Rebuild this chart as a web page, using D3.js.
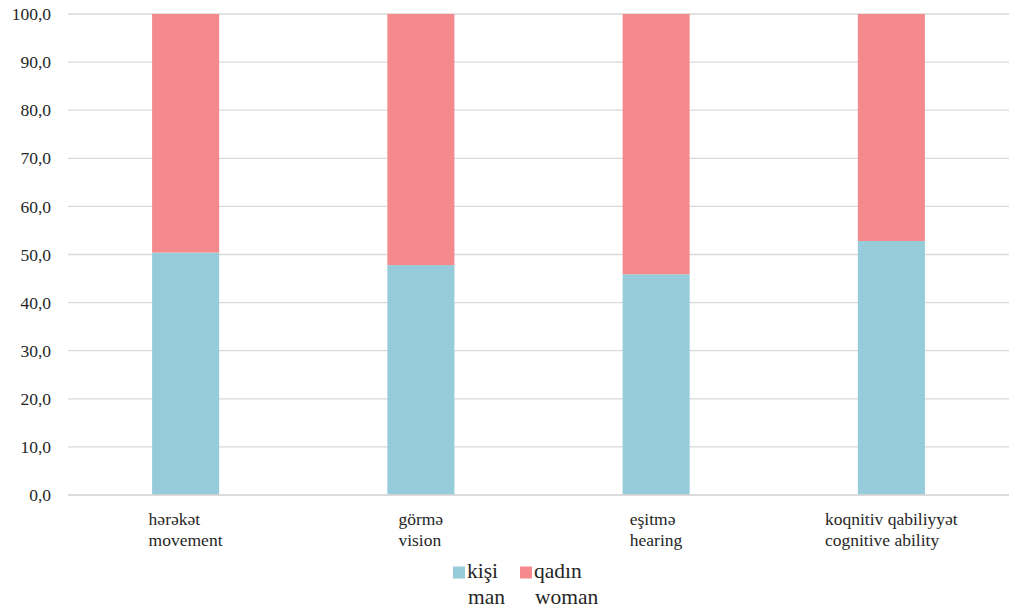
<!DOCTYPE html>
<html><head><meta charset="utf-8">
<script src="https://cdn.jsdelivr.net/npm/d3@7"></script>
<style>body{margin:0;background:#fff}</style>
</head><body><svg id="c" width="1010" height="610"></svg>
<script>
const categoriesAz = ["hərəkət", "görmə", "eşitmə", "koqnitiv qabiliyyət"];
const categoriesEn = ["movement", "vision", "hearing", "cognitive ability"];
const manValues = [50.4, 47.8, 45.9, 52.8];
const womanValues = [49.6, 52.2, 54.1, 47.2];
const yTicks = [0, 10, 20, 30, 40, 50, 60, 70, 80, 90, 100];
const seriesNames = [["kişi", "man"], ["qadın", "woman"]];
const colors = ["#96CBDA", "#F58A8D"];

const FONT = '"Liberation Serif"';
const svg = d3.select("#c");
const L = 68, R = 1009, T = 14, B = 495;
const x = d3.scaleBand().domain(d3.range(categoriesAz.length)).range([L, R]).padding(0);
const y = d3.scaleLinear().domain([0, 100]).range([B, T]);
const barW = x.bandwidth() * 0.285;
const fmt = v => d3.format(".1f")(v).replace(".", ",");

// gridlines
svg.append("g").selectAll("line").data(yTicks).join("line")
  .attr("x1", L).attr("x2", R).attr("y1", d => y(d)).attr("y2", d => y(d))
  .attr("stroke", "#d9d9d9").attr("stroke-width", 1.3);

// y tick labels
svg.append("g").selectAll("text").data(yTicks).join("text")
  .attr("x", 51).attr("y", d => y(d)).attr("dy", "0.35em")
  .attr("text-anchor", "end")
  .style("font-family", FONT).style("font-size", "17.5px").style("fill", "#262626")
  .text(fmt);

// bars
const stacks = categoriesAz.map((c, i) => [
  {s: 0, y0: 0, y1: manValues[i]},
  {s: 1, y0: manValues[i], y1: manValues[i] + womanValues[i]}
]);
const gb = svg.append("g");
stacks.forEach((st, i) => {
  gb.selectAll(null).data(st).join("rect")
    .attr("x", x(i) + x.bandwidth() / 2 - barW / 2)
    .attr("width", barW)
    .attr("y", d => y(d.y1)).attr("height", d => y(d.y0) - y(d.y1))
    .attr("fill", d => colors[d.s]);
});

// axis line
svg.append("line").attr("x1", L).attr("x2", R).attr("y1", B).attr("y2", B)
  .attr("stroke", "#d9d9d9").attr("stroke-width", 1.5);

// category labels
categoriesAz.forEach((c, i) => {
  const g = svg.append("g");
  const t = g.append("text")
    .style("font-family", FONT).style("font-size", "17.5px").style("fill", "#262626");
  t.append("tspan").attr("x", 0).attr("y", 525).text(c);
  t.append("tspan").attr("x", 0).attr("y", 546).text(categoriesEn[i]);
  const w = t.node().getBBox().width;
  g.attr("transform", `translate(${x(i) + x.bandwidth() / 2 - w / 2},0)`);
});

// legend
const legX = [453, 520];
seriesNames.forEach((n, i) => {
  svg.append("rect").attr("x", legX[i]).attr("y", 566.5).attr("width", 12).attr("height", 12).attr("fill", colors[i]);
  const t = svg.append("text")
    .style("font-family", FONT).style("font-size", "21.5px").style("fill", "#262626");
  t.append("tspan").attr("x", legX[i] + 14).attr("y", 578).text(n[0]);
  t.append("tspan").attr("x", legX[i] + 15).attr("y", 604).text(n[1]);
});
</script></body></html>
